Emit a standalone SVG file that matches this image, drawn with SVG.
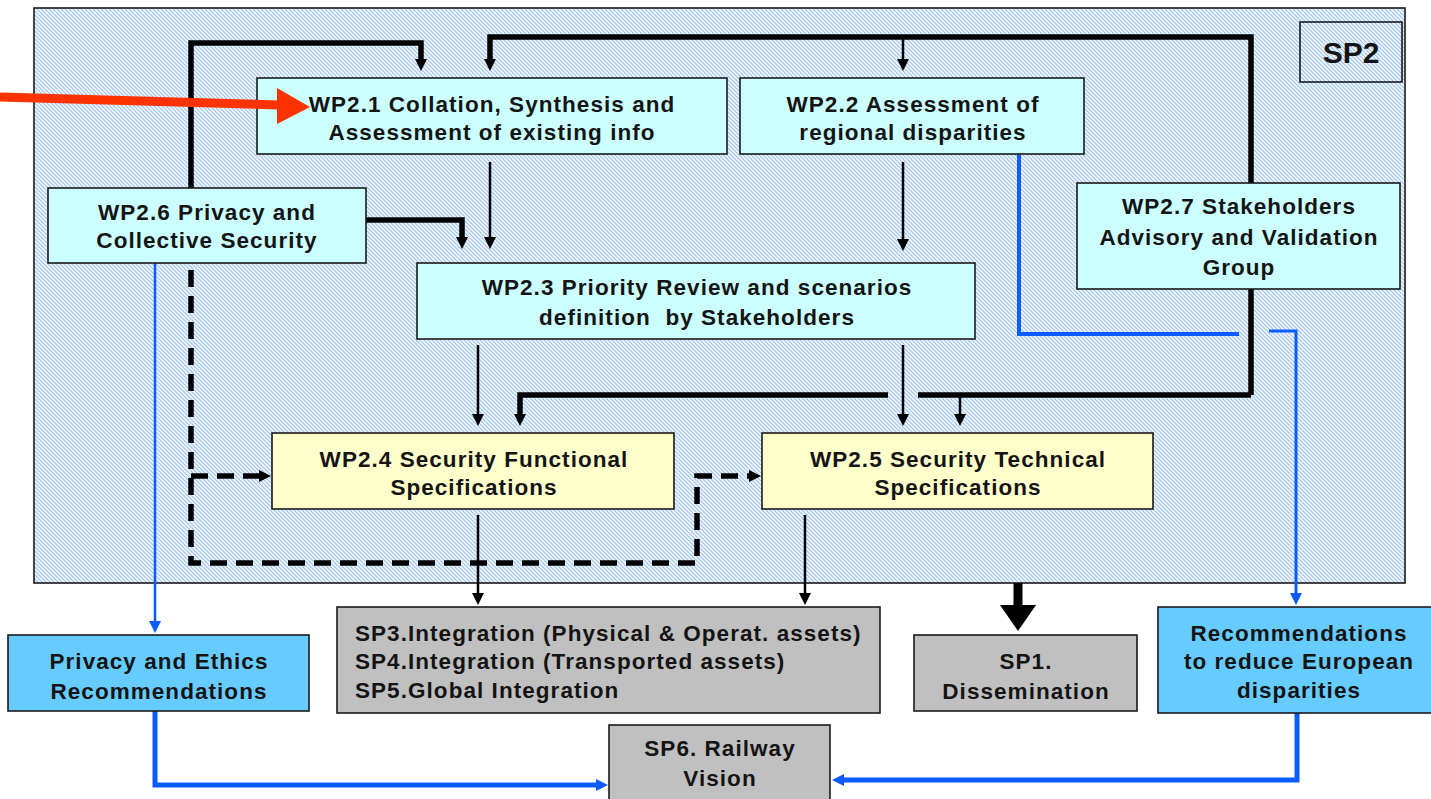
<svg xmlns="http://www.w3.org/2000/svg" width="1431" height="799" viewBox="0 0 1431 799">
<style>
text{font-family:"Liberation Sans",Arial,sans-serif;font-weight:bold;font-size:22.5px;letter-spacing:1.05px;fill:#141414;text-anchor:middle}
.box{stroke:#1a1a1a;stroke-width:1.6}
.cyan{fill:#ccffff}
.yel{fill:#ffffcc}
.blu{fill:#66ccff}
.gry{fill:#c0c0c0}
.k{fill:none;stroke:#000;stroke-width:2.5}
.kt{fill:none;stroke:#000;stroke-width:5.5}
.kd{fill:none;stroke:#000;stroke-width:5.5;stroke-dasharray:17 9}
.b{fill:none;stroke:#0a5cff;stroke-width:2.5}
.bt{fill:none;stroke:#0a5cff;stroke-width:5}
</style>
<defs>
<pattern id="hatch" patternUnits="userSpaceOnUse" width="4" height="4">
<rect width="4" height="4" fill="#f4f9ff"/>
<path d="M0,0 L4,4 M-1,3 L1,5 M3,-1 L5,1" stroke="#9cc2f0" stroke-width="1.1"/>
</pattern>
<marker id="ak" markerUnits="userSpaceOnUse" markerWidth="13" markerHeight="12" refX="1" refY="6" orient="auto">
<path d="M0,0 L12,6 L0,12 z" fill="#000"/>
</marker>
<marker id="ab" markerUnits="userSpaceOnUse" markerWidth="13" markerHeight="12" refX="1" refY="6" orient="auto">
<path d="M0,0 L12,6 L0,12 z" fill="#0a5cff"/>
</marker>
</defs>
<rect width="1431" height="799" fill="#fff"/>
<g id="SP2">
<rect x="34" y="8" width="1371" height="575" fill="url(#hatch)" class="box"/>
</g>
<g id="connectors">
<path class="kt" d="M191,188 V43 H421 V60" marker-end="url(#ak)"/>
<path class="kt" d="M1251,395 V37 H490 V60" marker-end="url(#ak)"/>
<path class="k" d="M903,37 V60" marker-end="url(#ak)"/>
<path class="kt" d="M888,395 H520 V415" marker-end="url(#ak)"/>
<path class="kt" d="M918,395 H1251"/>
<path class="k" d="M960,395 V415" marker-end="url(#ak)"/>
<path class="kt" d="M366,220 H462 V238" marker-end="url(#ak)"/>
<path class="k" d="M490,162 V238" marker-end="url(#ak)"/>
<path class="k" d="M903,162 V240" marker-end="url(#ak)"/>
<path class="k" d="M478,345 V415" marker-end="url(#ak)"/>
<path class="k" d="M903,345 V415" marker-end="url(#ak)"/>
<path class="kd" d="M191,270 V563 H697 V476 H750" marker-end="url(#ak)"/>
<path class="kd" d="M191,476 H260" marker-end="url(#ak)"/>
<path class="k" d="M478,515 V594" marker-end="url(#ak)"/>
<path class="k" d="M805,515 V594" marker-end="url(#ak)"/>
<path d="M1018,583 V606" stroke="#000" stroke-width="9" fill="none"/>
<path d="M1000,605 L1036,605 L1018,631 z" fill="#000"/>
<path class="b" d="M155,263 V622" marker-end="url(#ab)"/>
<path class="bt" d="M155,711 V785 H597" marker-end="url(#ab)"/>
<path d="M1019,152 V334 H1239" fill="none" stroke="#0a5cff" stroke-width="4"/>
<path d="M1269,331 H1296 V594" fill="none" stroke="#0a5cff" stroke-width="3" marker-end="url(#ab)"/>
<path class="bt" d="M1297,713 V780 H843" marker-end="url(#ab)"/>
</g>
<g id="SP2label">
<rect x="1300" y="22" width="102" height="60" fill="none" class="box"/>
<text x="1351" y="63" style="font-size:30px;letter-spacing:0">SP2</text>
</g>
<g id="WP2.1">
<rect x="257" y="78" width="470" height="76" class="box cyan"/>
<text x="492" y="112">WP2.1 Collation, Synthesis and</text>
<text x="492" y="140">Assessment of existing info</text>
</g>
<g id="WP2.2">
<rect x="740" y="78" width="344" height="76" class="box cyan"/>
<text x="913" y="112">WP2.2 Assessment of</text>
<text x="913" y="140">regional disparities</text>
</g>
<g id="WP2.6">
<rect x="48" y="188" width="318" height="75" class="box cyan"/>
<text x="207" y="220">WP2.6 Privacy and</text>
<text x="207" y="248">Collective Security</text>
</g>
<g id="WP2.7">
<rect x="1077" y="183" width="323" height="106" class="box cyan"/>
<text x="1239" y="214">WP2.7 Stakeholders</text>
<text x="1239" y="245">Advisory and Validation</text>
<text x="1239" y="275">Group</text>
</g>
<g id="WP2.3">
<rect x="417" y="263" width="558" height="76" class="box cyan"/>
<text x="697" y="295">WP2.3 Priority Review and scenarios</text>
<text x="697" y="325" style="white-space:pre" xml:space="preserve">definition  by Stakeholders</text>
</g>
<g id="WP2.4">
<rect x="272" y="433" width="402" height="76" class="box yel"/>
<text x="474" y="467">WP2.4 Security Functional</text>
<text x="474" y="495">Specifications</text>
</g>
<g id="WP2.5">
<rect x="762" y="433" width="391" height="76" class="box yel"/>
<text x="958" y="467">WP2.5 Security Technical</text>
<text x="958" y="495">Specifications</text>
</g>
<g id="Privacy">
<rect x="8" y="635" width="301" height="76" class="box blu"/>
<text x="159" y="669">Privacy and Ethics</text>
<text x="159" y="699">Recommendations</text>
</g>
<g id="SP345">
<rect x="337" y="607" width="543" height="106" class="box gry"/>
<text x="355" y="641" style="text-anchor:start">SP3.Integration (Physical &amp; Operat. assets)</text>
<text x="355" y="669" style="text-anchor:start">SP4.Integration (Transported assets)</text>
<text x="355" y="698" style="text-anchor:start">SP5.Global Integration</text>
</g>
<g id="SP1">
<rect x="914" y="635" width="223" height="76" class="box gry"/>
<text x="1026" y="669">SP1.</text>
<text x="1026" y="699">Dissemination</text>
</g>
<g id="Recommendations">
<rect x="1158" y="607" width="276" height="106" class="box blu"/>
<text x="1299" y="641">Recommendations</text>
<text x="1299" y="669">to reduce European</text>
<text x="1299" y="698">disparities</text>
</g>
<g id="SP6">
<rect x="609" y="725" width="221" height="80" class="box gry"/>
<text x="720" y="756">SP6. Railway</text>
<text x="720" y="786">Vision</text>
</g>
<g id="pointer">
<path d="M0,97 L280,105" stroke="#ff3300" stroke-width="9" fill="none"/>
<path d="M277,88 L310,107 L277,124 z" fill="#ff3300"/>
</g>
</svg>
